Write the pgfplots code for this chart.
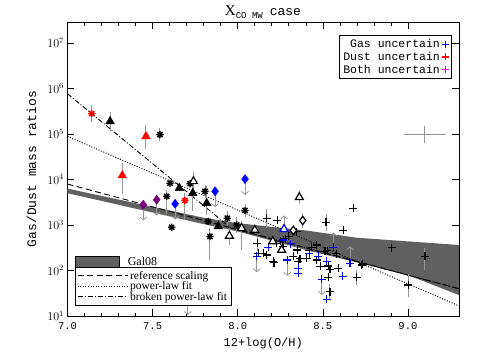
\documentclass[border=0pt]{standalone}
\usepackage{pgfplots}
\pgfplotsset{compat=1.18}
\usepackage{fontspec}
\setmainfont{Liberation Mono}
\newfontfamily\serif{Liberation Serif}
\usetikzlibrary{arrows.meta}
\definecolor{band}{RGB}{96,96,96}
\definecolor{ebar}{RGB}{150,150,150}
\definecolor{dpurple}{RGB}{120,0,120}
\definecolor{lmag}{RGB}{225,0,225}
\pgfdeclareplotmark{ast8}{%
 \pgfpathmoveto{\pgfqpoint{-\pgfplotmarksize}{0pt}}\pgfpathlineto{\pgfqpoint{\pgfplotmarksize}{0pt}}%
 \pgfpathmoveto{\pgfqpoint{0pt}{-\pgfplotmarksize}}\pgfpathlineto{\pgfqpoint{0pt}{\pgfplotmarksize}}%
 \pgfpathmoveto{\pgfqpoint{-0.707\pgfplotmarksize}{-0.707\pgfplotmarksize}}\pgfpathlineto{\pgfqpoint{0.707\pgfplotmarksize}{0.707\pgfplotmarksize}}%
 \pgfpathmoveto{\pgfqpoint{-0.707\pgfplotmarksize}{0.707\pgfplotmarksize}}\pgfpathlineto{\pgfqpoint{0.707\pgfplotmarksize}{-0.707\pgfplotmarksize}}%
 \pgfusepathqstroke}
\begin{document}
\begin{tikzpicture}
\path[use as bounding box] (-67.5pt,-44pt) rectangle (412.5pt,316pt);
\begin{axis}[
 scale only axis, width=391.5pt, height=294pt,
 xmin=7.0, xmax=9.3, ymode=log, ymin=10, ymax=2.9e7,
 xtick={7.0,7.5,8.0,8.5,9.0}, xticklabels={7.0,7.5,8.0,8.5,9.0},
 minor x tick num=4,
 ytick={10,100,1000,10000,100000,1000000,10000000}, yminorticks=false,
 tick align=inside, major tick length=7pt, minor tick length=3.5pt,
 tick style={black, line width=0.6pt},
 axis line style={line width=0.8pt},
 xticklabel style={font=\fontsize{10.5}{12}\selectfont, yshift=-3pt},
 yticklabel style={font=\fontsize{11.5}{13}\selectfont},
 xlabel={12+log(O/H)}, xlabel style={font=\fontsize{12}{14}\selectfont, yshift=-1pt},
 ylabel={Gas/Dust mass ratios}, ylabel style={font=\fontsize{13}{15}\selectfont, at={(axis description cs:-0.092,0.5)}, anchor=center},
]
% Gal08 band
\addplot[fill=band, draw=none] coordinates {(7.0,6310) (7.4,3020) (7.8,1445) (8.0,1096) (8.4,759) (8.7,525) (9.0,437) (9.3,363) (9.3,28.8) (9.0,79.4) (8.7,151) (8.4,282) (8.0,724) (7.8,1047) (7.4,2291) (7.0,5012)};
% fits
\addplot[black, line width=0.9pt, dash pattern=on 6pt off 3.5pt] coordinates {(7.0,7943) (9.3,39.8)};
\addplot[black, line width=0.9pt, dash pattern=on 1pt off 1.6pt] coordinates {(7.0,88720) (9.3,16.67)};
\addplot[black, line width=0.9pt, dash pattern=on 5pt off 2pt on 1pt off 2pt] coordinates {(7.0,767400) (7.96,860) (9.3,39.8)};
% error bars
\addplot[draw=none, error bars/.cd, y dir=both, y explicit, error bar style={ebar, line width=1pt}, error mark options={ebar, line width=1pt, mark size=4pt}] coordinates {
(7.142,281000) += (0,66000) -= (0,52000)
(7.25,190000) += (0,61000) -= (0,49000)
(7.461,89000) += (0,43000) -= (0,33000)
(7.543,97000) += (0,12000) -= (0,10500)
(7.322,12300) += (0,6800) -= (0,6300)
(7.74,9120) += (0,2600) -= (0,2000)
(7.69,3470) += (0,700) -= (0,1920)
(7.837,560) += (0,150) -= (0,356)
(8.023,851) += (0,150) -= (0,512)
(7.818,3020) += (0,3000) -= (0,1020)
(7.808,5500) += (0,800) -= (0,700)
(7.736,5010) += (0,500) -= (0,2500)
(7.583,4270) += (0,500) -= (0,2270)
(7.939,1410) += (0,250) -= (0,220)
(8.043,2090) += (0,250) -= (0,220)
(7.951,575) += (0,130) -= (0,120)
(7.994,1000) += (0,200) -= (0,170)
(8.17,1410) += (0,450) -= (0,340)
(8.519,1150) += (0,300) -= (0,236)
(9.10,204) += (0,56) -= (0,76)
(9.002,47.9) += (0,21) -= (0,16)
(8.70,70.8) += (0,14) -= (0,12)
(8.362,4070) += (0,600) -= (0,520)
(8.382,1260) += (0,220) -= (0,190)
(8.542,34.3) += (0,8) -= (0,7)
(8.115,398) += (0,80) -= (0,70)
};
% typical error cross
\addplot[draw=none, error bars/.cd, x dir=both, x explicit, y dir=both, y explicit, error bar style={ebar, line width=1pt}, error mark options={ebar, line width=1pt, mark size=4pt}] coordinates {(9.10,100000) += (0.1,23000) -= (0.1,24000)};
% upper limits
\addplot[draw=none, error bars/.cd, y dir=minus, y explicit relative, error mark=none, error bar style={ebar, line width=0.8pt, -{Straight Barb[length=3pt,width=7pt]}}] coordinates {
(7.445,2790) -= (0,0.55) (7.524,3590) -= (0,0.55) (7.632,2930) -= (0,0.55) (7.867,5500) -= (0,0.55) (8.043,10200) -= (0,0.55) (8.112,204) -= (0,0.55) (8.291,170) -= (0,0.55) (8.494,64.6) -= (0,0.55) (7.706,23.4) -= (0,0.55)};
% lower limits
\addplot[draw=none, error bars/.cd, y dir=plus, y explicit relative, error mark=none, error bar style={ebar, line width=0.8pt, -{Straight Barb[length=3pt,width=7pt]}}] coordinates {
(8.272,813) += (0,1.0) (8.562,400) += (0,0.7) (8.66,200) += (0,0.7)};
% markers
\addplot[only marks, mark=+, mark size=4pt, line width=1.2pt, black] coordinates {
(8.17,1410) (8.233,1260) (8.519,1150) (8.62,759) (8.679,2340) (8.905,316) (9.10,204) (9.002,47.9) (8.734,141) (8.115,398) (8.229,398) (8.15,240) (8.17,219) (8.213,148) (8.327,204) (8.35,282) (8.366,182) (8.356,158) (8.405,186) (8.435,324) (8.42,275) (8.464,363) (8.484,123) (8.513,263) (8.527,275) (8.542,107) (8.58,234) (8.532,70.8) (8.591,112) (8.70,70.8) (8.542,34.3) (8.729,132) (8.347,720) (8.30,562) (8.28,500) (8.12,240) (8.209,158) (8.249,437) (8.266,339) (8.464,170) (8.532,126)};
\addplot[only marks, mark=+, mark size=4pt, line width=1.2pt, blue] coordinates {
(8.18,324) (8.268,468) (8.311,389) (8.112,204) (8.291,170) (8.356,112) (8.356,87.1) (8.42,234) (8.474,204) (8.562,324) (8.523,158) (8.494,64.6) (8.617,74.1) (8.66,145) (8.523,23.4)};
\addplot[only marks, mark=ast8, mark size=3.6pt, line width=1.4pt, black] coordinates {
(7.543,97000) (7.602,8300) (7.72,8100) (7.583,4270) (7.808,5500) (7.612,890) (7.826,1200) (8.043,2090) (7.837,560) (7.939,1410) (7.994,1000)};
\addplot[only marks, mark=ast8, mark size=3.6pt, line width=1.4pt, red] coordinates {(7.142,281000) (7.69,3470)};
\addplot[only marks, mark=triangle*, mark size=5pt, black] coordinates {(7.25,190000) (7.657,6460) (7.736,5010) (7.818,3020) (7.886,933)};
\addplot[only marks, mark=triangle*, mark size=5pt, red] coordinates {(7.461,89000) (7.322,12300)};
\addplot[only marks, mark=triangle*, mark size=4.6pt, line width=1.2pt, mark options={fill=white, draw=black}] coordinates {(7.74,9120) (7.951,575) (8.023,851) (8.10,776) (8.362,4070) (8.206,437) (8.258,282)};
\addplot[only marks, mark=triangle*, mark size=4.6pt, line width=1.2pt, mark options={fill=white, draw=blue}] coordinates {(8.272,813)};
\addplot[only marks, mark=diamond*, mark size=4.6pt, blue] coordinates {(7.632,2930) (7.867,5500) (8.043,10200)};
\addplot[only marks, mark=diamond*, mark size=4.6pt, dpurple] coordinates {(7.445,2790) (7.524,3590) (7.706,23.4)};
\addplot[only marks, mark=diamond*, mark size=4.2pt, line width=1.2pt, mark options={fill=white, draw=black}] coordinates {(8.382,1260) (8.327,760)};
\filldraw[fill=band, draw=black, line width=0.6pt] (axis description cs:0.019,0.162) rectangle (axis description cs:0.132,0.203);
\node[anchor=west, font=\serif\fontsize{12}{13}\selectfont] at (axis description cs:0.145,0.186) {Gal08};
\end{axis}
% title
\node[anchor=center] at (195.5pt,304pt) {{\serif\fontsize{15}{16}\selectfont X}\raisebox{-3.5pt}{\fontsize{9}{9}\selectfont CO MW}\hspace{7pt}{\fontsize{13}{14}\selectfont case}};
% top-right legend
\begin{axis}[
 scale only axis, width=391.5pt, height=294pt, hide axis,
 xmin=0, xmax=1, ymin=0, ymax=1,
 legend style={at={(0.98,0.956)}, anchor=north east, font=\fontsize{11.5}{13}\selectfont, draw=black, line width=0.6pt, row sep=-1pt, inner sep=2pt},
 legend cell align=right, legend plot pos=right,
]
\addlegendimage{only marks, mark=+, blue, line width=1.2pt, mark size=3.5pt}
\addlegendentry{Gas uncertain}
\addlegendimage{only marks, mark=+, red, line width=1.2pt, mark size=3.5pt}
\addlegendentry{Dust uncertain}
\addlegendimage{only marks, mark=+, lmag, line width=1.2pt, mark size=3.5pt}
\addlegendentry{Both uncertain}
\end{axis}
% lower-left legend
\begin{axis}[
 scale only axis, width=391.5pt, height=294pt, hide axis,
 xmin=0, xmax=1, ymin=0, ymax=1,
 legend style={at={(0.019,0.034)}, anchor=south west, font=\serif\fontsize{11.5}{12}\selectfont, draw=black, line width=0.6pt, row sep=-3pt, inner sep=2pt},
 legend cell align=left,
 legend image code/.code={\draw[#1] (0pt,0pt) -- (50pt,0pt);},
]
\addlegendimage{black, line width=0.9pt, dash pattern=on 6pt off 3.5pt}
\addlegendentry{reference scaling}
\addlegendimage{black, line width=0.9pt, dash pattern=on 1pt off 1.6pt}
\addlegendentry{power-law fit}
\addlegendimage{black, line width=0.9pt, dash pattern=on 5pt off 2pt on 1pt off 2pt}
\addlegendentry{broken power-law fit}
\end{axis}
\end{tikzpicture}
\end{document}
